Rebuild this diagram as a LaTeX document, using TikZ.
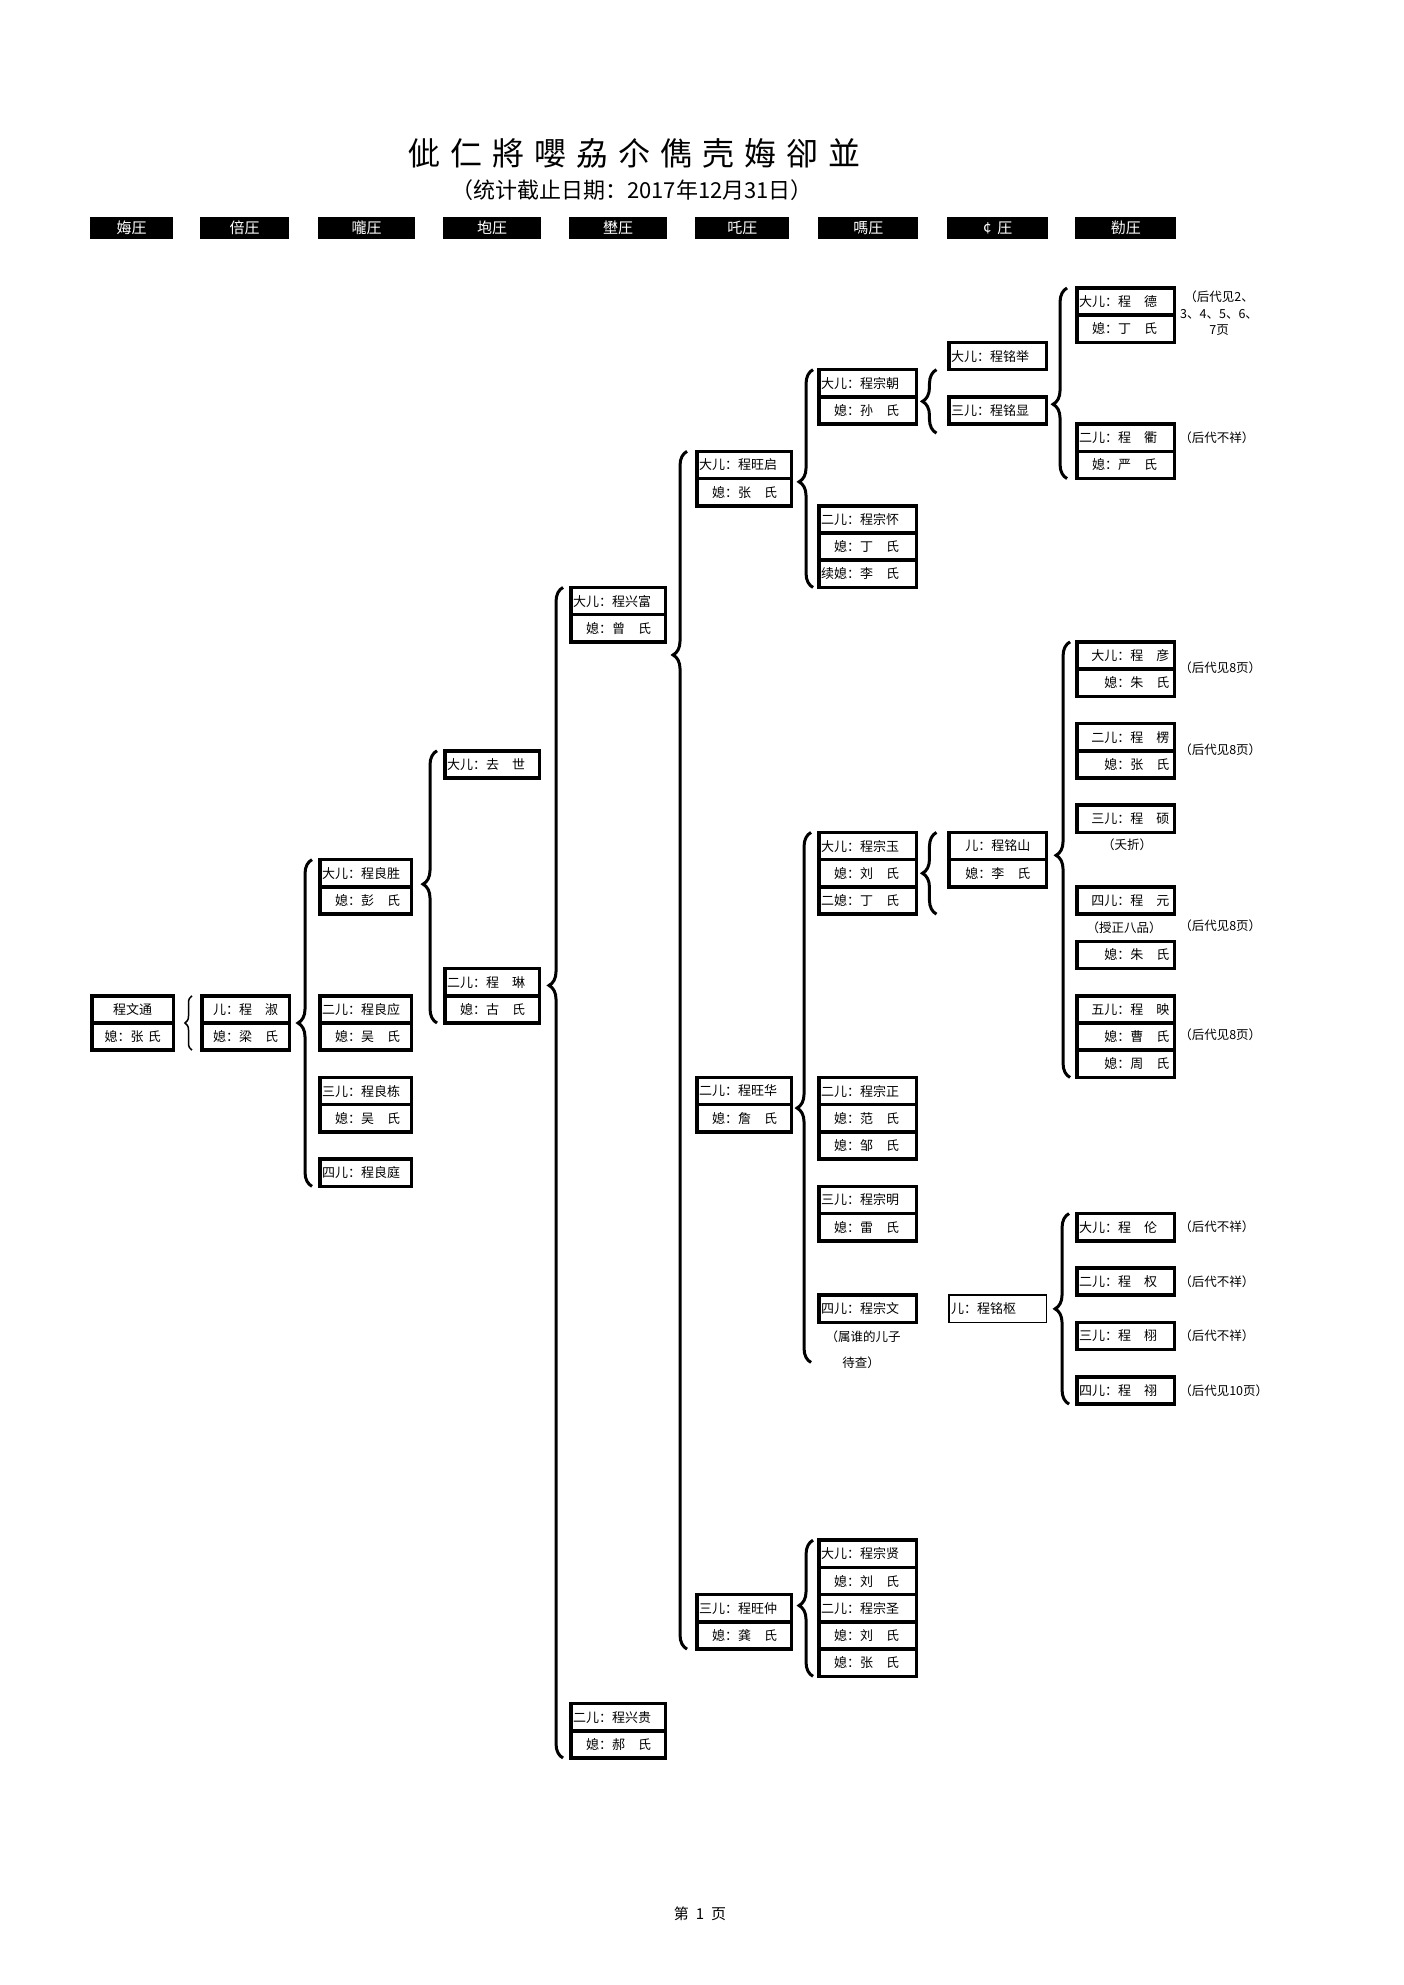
\documentclass[tikz,border=0pt]{standalone}
\usepackage{fontspec}
\setmainfont{Noto Sans CJK SC}
\usetikzlibrary{positioning,decorations.pathreplacing}

\newcommand\cellfont{\fontsize{13}{15}\selectfont}
\newcommand\notefont{\fontsize{12.5}{16.5}\selectfont}
\newcommand\tgap{\hspace{10pt}}

\tikzset{
  cell/.style={draw, line width=3.6pt, outer sep=0pt, inner xsep=2pt, inner ysep=0pt,
    minimum height=27.22pt, text width=#1, align=left, font=\cellfont},
  cell/.default=93.4pt,
  cellr/.style={cell=87.4pt, inner xsep=5pt, align=right},
  bar/.style={fill=black, text=white, anchor=north west, inner sep=0pt,
    minimum width=#1, minimum height=22pt, font=\fontsize{15}{15}\selectfont},
  note/.style={font=\notefont, inner sep=1pt},
  bracket/.style={decorate, line width=3pt, decoration={brace, amplitude=14pt, aspect=#1}},
  bracket/.default=0.5
}

\begin{document}
\begin{tikzpicture}[x=1pt, y=-27.22pt]
  \useasboundingbox (0,-10.58) rectangle (1403,62.34);

  % title and header bars
  \node[font=\fontsize{32}{32}\selectfont] (title) at (634.5,-4.93)
    {佌\tgap 仁\tgap 將\tgap 嚶\tgap 劦\tgap 尒\tgap 儁\tgap 壳\tgap 娒\tgap 卻\tgap 並};
  \node[font=\fontsize{22}{22}\selectfont] (subtitle) at (632,-3.58) {（统计截止日期：2017年12月31日）};
  \node[bar=83pt] (gen1) at (90,-2.616) {娒圧};
  \node[bar=89pt] (gen2) at (200,-2.616) {倍圧};
  \node[bar=97pt] (gen3) at (318,-2.616) {嚨圧};
  \node[bar=98pt] (gen4) at (443,-2.616) {垉圧};
  \node[bar=98pt] (gen5) at (569,-2.616) {壄圧};
  \node[bar=94pt] (gen6) at (695,-2.616) {吒圧};
  \node[bar=100pt] (gen7) at (818,-2.616) {嗎圧};
  \node[bar=101pt] (gen8) at (947,-2.616) {¢\hspace{6pt}圧};
  \node[bar=101pt] (gen9) at (1075,-2.616) {勌圧};

  % first and second generation
  \node[cell=77.4pt, align=center, anchor=north west] (wentong1) at (92,26) {程文通};
  \node[cell=77.4pt, align=center, below=0pt of wentong1] (wentong2) {媳：张 氏};
  \node[cell=83.4pt, align=center, anchor=north west] (shu1) at (202,26) {儿：程　淑};
  \node[cell=83.4pt, align=center, below=0pt of shu1] (shu2) {媳：梁　氏};

  % third generation
  \node[cell=87.4pt, anchor=north west] (liangsheng1) at (320,21) {大儿：程良胜};
  \node[cell=87.4pt, below=0pt of liangsheng1] (liangsheng2) {　媳：彭　氏};
  \node[cell=87.4pt, anchor=north west] (liangying1) at (320,26) {二儿：程良应};
  \node[cell=87.4pt, below=0pt of liangying1] (liangying2) {　媳：吴　氏};
  \node[cell=87.4pt, anchor=north west] (liangdong1) at (320,29) {三儿：程良栋};
  \node[cell=87.4pt, below=0pt of liangdong1] (liangdong2) {　媳：吴　氏};
  \node[cell=87.4pt, anchor=north west] (liangting) at (320,32) {四儿：程良庭};

  % fourth generation
  \node[cell=90.4pt, anchor=north west] (qushi) at (445,17) {大儿：去　世};
  \node[cell=90.4pt, anchor=north west] (lin1) at (445,25) {二儿：程　琳};
  \node[cell=90.4pt, below=0pt of lin1] (lin2) {　媳：古　氏};

  % fifth generation
  \node[cell=90.4pt, anchor=north west] (xingfu1) at (571,11) {大儿：程兴富};
  \node[cell=90.4pt, below=0pt of xingfu1] (xingfu2) {　媳：曾　氏};
  \node[cell=90.4pt, anchor=north west] (xinggui1) at (571,52) {二儿：程兴贵};
  \node[cell=90.4pt, below=0pt of xinggui1] (xinggui2) {　媳：郝　氏};

  % sixth generation
  \node[cell=90.4pt, anchor=north west] (wangqi1) at (697,6) {大儿：程旺启};
  \node[cell=90.4pt, below=0pt of wangqi1] (wangqi2) {　媳：张　氏};
  \node[cell=90.4pt, anchor=north west] (wanghua1) at (697,29) {二儿：程旺华};
  \node[cell=90.4pt, below=0pt of wanghua1] (wanghua2) {　媳：詹　氏};
  \node[cell=90.4pt, anchor=north west] (wangzhong1) at (697,48) {三儿：程旺仲};
  \node[cell=90.4pt, below=0pt of wangzhong1] (wangzhong2) {　媳：龚　氏};

  % seventh generation
  \node[cell, anchor=north west] (zongchao1) at (819,3) {大儿：程宗朝};
  \node[cell, below=0pt of zongchao1] (zongchao2) {　媳：孙　氏};
  \node[cell, anchor=north west] (zonghuai1) at (819,8) {二儿：程宗怀};
  \node[cell, below=0pt of zonghuai1] (zonghuai2) {　媳：丁　氏};
  \node[cell, below=0pt of zonghuai2] (zonghuai3) {续媳：李　氏};
  \node[cell, anchor=north west] (zongyu1) at (819,20) {大儿：程宗玉};
  \node[cell, below=0pt of zongyu1] (zongyu2) {　媳：刘　氏};
  \node[cell, below=0pt of zongyu2] (zongyu3) {二媳：丁　氏};
  \node[cell, anchor=north west] (zongzheng1) at (819,29) {二儿：程宗正};
  \node[cell, below=0pt of zongzheng1] (zongzheng2) {　媳：范　氏};
  \node[cell, below=0pt of zongzheng2] (zongzheng3) {　媳：邹　氏};
  \node[cell, anchor=north west] (zongming1) at (819,33) {三儿：程宗明};
  \node[cell, below=0pt of zongming1] (zongming2) {　媳：雷　氏};
  \node[cell, anchor=north west] (zongwen) at (819,37) {四儿：程宗文};
  \node[note] (zongwennote1) at (863,38.51) {（属谁的儿子};
  \node[note] (zongwennote2) at (861,39.49) {待查）};
  \node[cell, anchor=north west] (zongxian1) at (819,46) {大儿：程宗贤};
  \node[cell, below=0pt of zongxian1] (zongxian2) {　媳：刘　氏};
  \node[cell, below=0pt of zongxian2] (zongsheng1) {二儿：程宗圣};
  \node[cell, below=0pt of zongsheng1] (zongsheng2) {　媳：刘　氏};
  \node[cell, below=0pt of zongsheng2] (zongsheng3) {　媳：张　氏};

  % eighth generation
  \node[cell, anchor=north west] (mingju) at (949,2) {大儿：程铭举};
  \node[cell, anchor=north west] (mingxian) at (949,4) {三儿：程铭显};
  \node[cell, align=center, anchor=north west] (mingshan1) at (949,20) {儿：程铭山};
  \node[cell, align=center, below=0pt of mingshan1] (mingshan2) {媳：李　氏};
  \node[cell, line width=1.5pt, anchor=north west] (mingshu) at (949,37) {儿：程铭枢};

  % ninth generation
  \node[cell, anchor=north west] (de1) at (1077,0) {大儿：程　德};
  \node[cell, below=0pt of de1] (de2) {　媳：丁　氏};
  \node[cell, anchor=north west] (qu1) at (1077,5) {二儿：程　衢};
  \node[cell, below=0pt of qu1] (qu2) {　媳：严　氏};
  \node[cellr, anchor=north west] (yan1) at (1077,13) {大儿：程　彦};
  \node[cellr, below=0pt of yan1] (yan2) {媳：朱　氏};
  \node[cellr, anchor=north west] (leng1) at (1077,16) {二儿：程　楞};
  \node[cellr, below=0pt of leng1] (leng2) {媳：张　氏};
  \node[cellr, anchor=north west] (shuo) at (1077,19) {三儿：程　硕};
  \node[cellr, anchor=north west] (yuan) at (1077,22) {四儿：程　元};
  \node[cellr, anchor=north west] (yuanqi) at (1077,24) {媳：朱　氏};
  \node[cellr, anchor=north west] (ying1) at (1077,26) {五儿：程　映};
  \node[cellr, below=0pt of ying1] (ying2) {媳：曹　氏};
  \node[cellr, below=0pt of ying2] (ying3) {媳：周　氏};
  \node[cell, anchor=north west] (lun) at (1077,34) {大儿：程　伦};
  \node[cell, anchor=north west] (quan) at (1077,36) {二儿：程　权};
  \node[cell, anchor=north west] (xu) at (1077,38) {三儿：程　栩};
  \node[cell, anchor=north west] (jian) at (1077,40) {四儿：程　祤};

  % notes
  \node[note, align=center] (denote) at (1219,0.93) {（后代见2、\\3、4、5、6、\\7页};
  \node[note, anchor=west] (qunote) at (1178,5.49) {（后代不祥）};
  \node[note, anchor=west] (yannote) at (1178,13.95) {（后代见8页）};
  \node[note, anchor=west] (lengnote) at (1178,16.98) {（后代见8页）};
  \node[note] (yaozhe) at (1127,20.47) {（夭折）};
  \node[note] (shouzheng) at (1124,23.49) {（授正八品）};
  \node[note, anchor=west] (yuannote) at (1178,23.44) {（后代见8页）};
  \node[note, anchor=west] (yingnote) at (1178,27.44) {（后代见8页）};
  \node[note, anchor=west] (lunnote) at (1178,34.5) {（后代不祥）};
  \node[note, anchor=west] (quannote) at (1178,36.5) {（后代不祥）};
  \node[note, anchor=west] (xunote) at (1178,38.5) {（后代不祥）};
  \node[note, anchor=west] (jiannote) at (1178,40.5) {（后代见10页）};

  \node[font=\fontsize{15}{15}\selectfont] (pageno) at (700,59.73) {第\hspace{7pt}1\hspace{7pt}页};

  % braces
  \draw[bracket, line width=1.5pt, decoration={amplitude=7pt}]
    ([xshift=-10pt]shu2.south west) -- ([xshift=-10pt]shu1.north west);
  \draw[bracket] ([xshift=-8pt]liangting.south west) -- ([xshift=-8pt]liangsheng1.north west);
  \draw[bracket=0.51] ([xshift=-8pt]lin2.south west) -- ([xshift=-8pt]qushi.north west);
  \draw[bracket=0.66] ([xshift=-8pt]xinggui2.south west) -- ([xshift=-8pt]xingfu1.north west);
  \draw[bracket=0.83] ([xshift=-10pt]wangzhong2.south west) -- ([xshift=-10pt]wangqi1.north west);
  \draw[bracket=0.485] ([xshift=-6pt]zonghuai3.south west) -- ([xshift=-6pt]zongchao1.north west);
  \draw[bracket] ([xshift=20pt,yshift=-9pt]zongchao2.south east) -- ([xshift=20pt]zongchao1.north east);
  \draw[bracket=0.39] ([xshift=-10pt]qu2.south west) -- ([xshift=-10pt]de1.north west);
  \draw[bracket=0.48] ([xshift=-8pt,yshift=-40pt]zongwen.south west) -- ([xshift=-8pt]zongyu1.north west);
  \draw[bracket] ([xshift=20pt]zongyu3.south east) -- ([xshift=20pt]zongyu1.north east);
  \draw[bracket=0.51] ([xshift=-7pt]ying3.south west) -- ([xshift=-7pt]yan1.north west);
  \draw[bracket] ([xshift=-8pt]jian.south west) -- ([xshift=-8pt]lun.north west);
  \draw[bracket=0.52] ([xshift=-6pt]zongsheng3.south west) -- ([xshift=-6pt]zongxian1.north west);
\end{tikzpicture}
\end{document}
